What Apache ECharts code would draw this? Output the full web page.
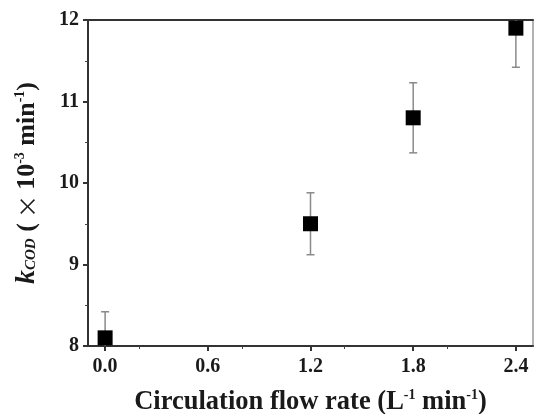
<!DOCTYPE html>
<html><head><meta charset="utf-8">
<script src="https://cdn.jsdelivr.net/npm/echarts@6/dist/echarts.min.js"></script>
<style>html,body{margin:0;padding:0;background:#fff}#c{width:534px;height:414px}</style>
</head><body><div id="c"></div>
<script>
const flowRates = [0.0, 1.2, 1.8, 2.4];
const kCOD = [8.1, 9.5, 10.8, 11.9];
const kErr = [0.32, 0.38, 0.43, 0.48];
const xTicks = [0.0, 0.6, 1.2, 1.8, 2.4];

const font = '"Liberation Serif","Times New Roman",serif';
const chart = echarts.init(document.getElementById('c'));
const pts = flowRates.map((x, i) => [x, kCOD[i]]);
const errData = flowRates.map((x, i) => [x, kCOD[i] - kErr[i], kCOD[i] + kErr[i]]);

chart.setOption({
  animation: false,
  grid: {left: 88, right: 1, top: 20, bottom: 68, containLabel: false, outerBoundsMode: 'none'},
  xAxis: [{
    type: 'value', min: -0.1, max: 2.5, interval: 0.6,
    axisLine: {lineStyle: {color: '#333', width: 2}},
    axisTick: {show: true, inside: false, length: 5, lineStyle: {color: '#333', width: 2},
      customValues: xTicks},
    minorTick: {show: true, splitNumber: 2, length: 3, lineStyle: {color: '#444'}},
    splitLine: {show: false},
    axisLabel: {customValues: xTicks, formatter: v => v.toFixed(1), fontFamily: font, fontWeight: 'bold', fontSize: 20, color: '#1a1a1a', margin: 11},
    name: '{t|Circulation flow rate (L}{s|-1}{t| min}{s|-1}{t|)}',
    nameLocation: 'middle', nameGap: 42,
    nameTextStyle: {rich: {
      t: {fontFamily: font, fontWeight: 'bold', fontSize: 26.5, color: '#1a1a1a'},
      s: {fontFamily: font, fontWeight: 'bold', fontSize: 14, color: '#1a1a1a', padding: [0, 0, 14, 0]}
    }}
  }, {
    type: 'value', position: 'top', min: -0.1, max: 2.5,
    axisLine: {show: true, onZero: false, lineStyle: {color: '#333', width: 2}},
    axisTick: {show: false}, axisLabel: {show: false}, splitLine: {show: false}
  }],
  yAxis: [{
    type: 'value', min: 8, max: 12, interval: 1,
    axisLine: {show: true, onZero: false, lineStyle: {color: '#333', width: 2}},
    axisTick: {show: true, inside: false, length: 5, lineStyle: {color: '#333', width: 2}},
    minorTick: {show: true, splitNumber: 2, length: 3, lineStyle: {color: '#444'}},
    splitLine: {show: false},
    axisLabel: {fontFamily: font, fontWeight: 'bold', fontSize: 20, color: '#1a1a1a', margin: 9},
    name: '{k|k}{sub|COD}{t| (}{x| × }{t|10}{s|-3}{t| min}{s|-1}{t|)}',
    nameLocation: 'middle', nameGap: 47, nameRotate: 90,
    nameTextStyle: {rich: {
      k: {fontFamily: font, fontWeight: 'bold', fontStyle: 'italic', fontSize: 28, color: '#1a1a1a'},
      sub: {fontFamily: font, fontWeight: 'bold', fontStyle: 'italic', fontSize: 15, color: '#1a1a1a', padding: [9, 0, 0, 0]},
      t: {fontFamily: font, fontWeight: 'bold', fontSize: 26, color: '#1a1a1a'},
      x: {fontFamily: '"Noto Sans CJK SC"', fontWeight: 'normal', fontSize: 23, color: '#1a1a1a'},
      s: {fontFamily: font, fontWeight: 'bold', fontSize: 14, color: '#1a1a1a', padding: [0, 0, 14, 0]}
    }}
  }, {
    type: 'value', position: 'right', min: 8, max: 12,
    axisLine: {show: true, onZero: false, lineStyle: {color: '#999', width: 1.5}},
    axisTick: {show: false}, axisLabel: {show: false}, splitLine: {show: false}
  }],
  series: [{
    type: 'custom',
    data: errData,
    renderItem: function (params, api) {
      const cs = params.coordSys;
      const x = api.coord([api.value(0), api.value(1)])[0];
      let yl = api.coord([api.value(0), api.value(1)])[1];
      let yh = api.coord([api.value(0), api.value(2)])[1];
      const top = cs.y, bot = cs.y + cs.height;
      const style = {stroke: '#8a8a8a', lineWidth: 1.5};
      const children = [];
      const lo = Math.min(yl, bot), hi = Math.max(yh, top);
      children.push({type: 'line', shape: {x1: x, y1: lo, x2: x, y2: hi}, style});
      if (yh >= top) children.push({type: 'line', shape: {x1: x - 4, y1: yh, x2: x + 4, y2: yh}, style});
      if (yl <= bot) children.push({type: 'line', shape: {x1: x - 4, y1: yl, x2: x + 4, y2: yl}, style});
      return {type: 'group', children};
    },
    z: 1
  }, {
    type: 'scatter', data: pts, symbol: 'rect', symbolSize: 15,
    itemStyle: {color: '#000', opacity: 1}, z: 3
  }]
});
</script></body></html>
